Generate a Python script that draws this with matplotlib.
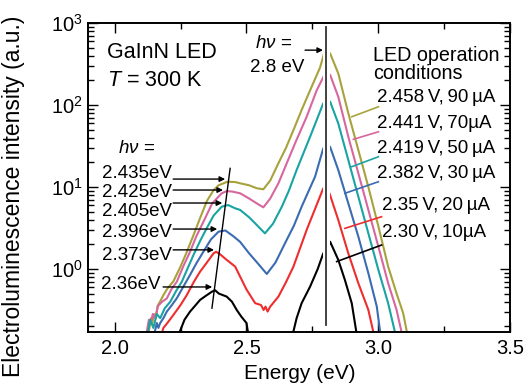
import matplotlib
matplotlib.use("Agg")
import matplotlib.pyplot as plt
import matplotlib.patheffects as pe
from matplotlib.ticker import MultipleLocator, LogLocator, NullFormatter
import numpy as np

plt.rcParams['font.family'] = ['Liberation Sans', 'DejaVu Sans']
plt.rcParams['mathtext.fontset'] = 'custom'
plt.rcParams['mathtext.rm'] = 'Liberation Sans'
plt.rcParams['mathtext.it'] = 'Liberation Sans:italic'

# spectra: photon energy (eV) and EL intensity (a.u.)
e_90 = [2.128, 2.138, 2.143, 2.150, 2.156, 2.163, 2.172, 2.185, 2.200, 2.223, 2.250, 2.274, 2.300, 2.324,
        2.350, 2.375, 2.394, 2.428, 2.457, 2.476, 2.510, 2.539, 2.564, 2.590, 2.621, 2.650, 2.678, 2.709,
        2.741, 2.779, 2.794, 2.805, 2.817, 2.848, 2.886, 2.924, 2.962, 3.000, 3.037, 3.069, 3.094, 3.110]
i_90 = [0.158, 0.251, 0.219, 0.282, 0.251, 0.355, 0.398, 0.479, 0.575, 0.708, 1.07, 1.62, 2.63, 4.17,
        6.76, 9.12, 10.5, 11.6, 11.5, 11.1, 10.5, 9.66, 9.38, 12.0, 19.5, 30.2, 49.5, 87.1,
        151, 288, 427, 457, 427, 243, 79.4, 28.2, 10.0, 3.31, 1.07, 0.501, 0.288, 0.158]

e_70 = [2.120, 2.130, 2.137, 2.145, 2.154, 2.165, 2.180, 2.198, 2.215, 2.236, 2.260, 2.286, 2.310, 2.337,
        2.370, 2.406, 2.425, 2.445, 2.476, 2.510, 2.539, 2.564, 2.590, 2.621, 2.650, 2.684, 2.728, 2.766,
        2.794, 2.805, 2.817, 2.848, 2.886, 2.924, 2.962, 3.000, 3.037, 3.069, 3.090]
i_70 = [0.158, 0.240, 0.219, 0.282, 0.251, 0.355, 0.398, 0.437, 0.562, 0.700, 1.07, 1.62, 2.51, 3.78,
        6.31, 8.38, 8.91, 8.81, 8.38, 7.24, 6.31, 5.65, 7.24, 11.1, 18.6, 34.1, 71.9, 151,
        229, 245, 234, 126, 41.0, 14.7, 5.25, 1.87, 0.670, 0.316, 0.158]

e_50 = [2.125, 2.135, 2.147, 2.160, 2.173, 2.190, 2.211, 2.233, 2.255, 2.277, 2.299, 2.324, 2.349, 2.375,
        2.406, 2.430, 2.457, 2.476, 2.510, 2.539, 2.570, 2.600, 2.634, 2.660, 2.690, 2.741, 2.791, 2.805,
        2.817, 2.848, 2.886, 2.924, 2.962, 3.000, 3.037, 3.065]
i_50 = [0.158, 0.240, 0.191, 0.282, 0.251, 0.331, 0.398, 0.537, 0.700, 1.02, 1.48, 2.19, 3.13, 4.47,
        5.75, 6.03, 5.50, 5.25, 4.27, 3.44, 2.72, 3.55, 5.75, 8.91, 16.1, 41.0, 105, 112,
        110, 59.7, 21.3, 7.62, 2.72, 0.973, 0.382, 0.158]

e_30 = [2.150, 2.160, 2.166, 2.173, 2.185, 2.198, 2.215, 2.236, 2.260, 2.286, 2.310, 2.337, 2.365, 2.394,
        2.420, 2.450, 2.476, 2.510, 2.540, 2.577, 2.610, 2.646, 2.680, 2.709, 2.760, 2.791, 2.805, 2.817,
        2.848, 2.886, 2.924, 2.962, 2.994, 3.008]
i_30 = [0.158, 0.219, 0.191, 0.219, 0.251, 0.302, 0.355, 0.440, 0.603, 0.845, 1.17, 1.63, 2.29, 2.85,
        2.95, 2.51, 2.14, 1.55, 1.20, 0.869, 1.20, 2.06, 3.39, 5.75, 13.4, 29.6, 31.6, 30.9,
        16.1, 6.31, 2.48, 0.885, 0.347, 0.158]

e_20 = [2.178, 2.185, 2.200, 2.223, 2.250, 2.274, 2.300, 2.324, 2.350, 2.375, 2.385, 2.400, 2.425, 2.457,
        2.476, 2.500, 2.533, 2.555, 2.565, 2.572, 2.580, 2.590, 2.621, 2.650, 2.678, 2.728, 2.791, 2.805,
        2.817, 2.848, 2.886, 2.924, 2.962, 2.983]
i_20 = [0.158, 0.191, 0.219, 0.275, 0.363, 0.482, 0.692, 0.927, 1.20, 1.55, 1.62, 1.51, 1.29, 1.07,
        0.805, 0.562, 0.382, 0.363, 0.316, 0.347, 0.302, 0.347, 0.460, 0.692, 1.07, 2.99, 9.64, 10.0,
        7.94, 3.96, 1.55, 0.670, 0.316, 0.158]

e_10a = [2.240, 2.248, 2.265, 2.286, 2.305, 2.324, 2.345, 2.369, 2.381, 2.395, 2.425, 2.445, 2.463, 2.480, 2.500, 2.507]
i_10a = [0.158, 0.174, 0.240, 0.302, 0.355, 0.419, 0.468, 0.528, 0.550, 0.501, 0.460, 0.398, 0.316, 0.263, 0.219, 0.158]
e_10b = [2.675, 2.690, 2.709, 2.741, 2.770, 2.791, 2.805, 2.817, 2.848, 2.873, 2.899, 2.918]
i_10b = [0.158, 0.251, 0.382, 0.608, 1.00, 1.55, 1.66, 2.15, 1.29, 0.735, 0.382, 0.158]

ts = "\u2009"
conditions = ["2.458" + ts + "V," + ts + "90" + ts + "µA", "2.441" + ts + "V," + ts + "70µA",
              "2.419" + ts + "V," + ts + "50" + ts + "µA", "2.382" + ts + "V," + ts + "30" + ts + "µA",
              "2.35" + ts + "V," + ts + "20" + ts + "µA", "2.30" + ts + "V," + ts + "10µA"]
colors = ["#a8a23c", "#d8669e", "#1aa3a3", "#3b6bb0", "#ee2e2e", "black"]

peak_low = ["2.435eV", "2.425eV", "2.405eV", "2.396eV", "2.373eV", "2.36eV"]

fig = plt.figure(figsize=(5.25, 3.92), dpi=100)
ax = fig.add_axes([0.168, 0.153, 0.804, 0.788])

lw = 1.5
ax.plot(e_90, i_90, color=colors[0], lw=lw)
ax.plot(e_70, i_70, color=colors[1], lw=lw)
ax.plot(e_50, i_50, color=colors[2], lw=lw)
ax.plot(e_30, i_30, color=colors[3], lw=lw)
ax.plot(e_20, i_20, color=colors[4], lw=lw)
ax.plot(e_10a, i_10a, color=colors[5], lw=lw)
ax.plot(e_10b, i_10b, color=colors[5], lw=lw)

# main peak marker at 2.8 eV, with a white gap around it
ax.plot([2.803, 2.803], [0.21, 890], color='#333333', lw=1.3, zorder=5,
        path_effects=[pe.withStroke(linewidth=5, foreground='white')])
# drift of the low-energy peak
ax.plot([2.369, 2.438], [0.332, 16.9], color='black', lw=1.0, zorder=5)

ax.set_yscale('log')
ax.set_xlim(1.9, 3.5)
ax.set_ylim(0.17, 1000)
ax.xaxis.set_major_locator(MultipleLocator(0.5))
ax.xaxis.set_minor_locator(MultipleLocator(0.25))
ax.yaxis.set_major_locator(LogLocator(base=10))
ax.yaxis.set_minor_locator(LogLocator(base=10, subs=np.arange(2, 10)))
ax.yaxis.set_minor_formatter(NullFormatter())
ax.tick_params(which='both', direction='in', top=True, right=True, width=1.0, labelsize=14.5)
ax.tick_params(which='major', length=7)
ax.tick_params(which='minor', length=4)
ax.tick_params(axis='x', pad=5)
ax.tick_params(axis='y', pad=4)
for s in ax.spines.values():
    s.set_linewidth(1.4)

ax.set_xlabel("Energy (eV)", fontsize=15, labelpad=4)
ax.set_ylabel("Electroluminescence intensity (a.u.)", fontsize=16.5)
ax.yaxis.set_label_coords(-0.15, 0.44)

fs = 13.5
ax.text(1.972, 443, "GaInN LED", fontsize=15.5, va='center', ha='left')
ax.text(1.972, 202, "$T$ = 300 K", fontsize=15.5, va='center', ha='left')

ax.text(2.533, 570, r"$h\nu$ =", fontsize=fs, va='center', ha='left')
ax.text(2.514, 290, "2.8 eV", fontsize=fs, va='center', ha='left')
ax.annotate("", xy=(2.790, 468), xytext=(2.722, 468),
            arrowprops=dict(arrowstyle='-|>', color='black', lw=1.0, mutation_scale=8, shrinkA=0, shrinkB=0))

ax.text(2.98, 407, "LED operation", fontsize=14.2, va='center', ha='left')
ax.text(2.98, 246, "conditions", fontsize=14.2, va='center', ha='left')

# operation condition labels with leader lines
text_y = [122, 60.3, 29.9, 14.8, 5.87, 2.75]
text_x = [2.995, 2.995, 2.995, 2.995, 3.014, 3.014]
lead_from = [(2.899, 72), (2.905, 38.2), (2.899, 17.7), (2.873, 8.38), (2.873, 3.13), (2.842, 1.23)]
lead_to = [(3.0, 95.3), (3.0, 47.2), (3.0, 23.4), (3.0, 11.6), (3.012, 4.34), (3.012, 1.96)]
for lab, c, tx, ty, a, b in zip(conditions, colors, text_x, text_y, lead_from, lead_to):
    ax.plot([a[0], b[0]], [a[1], b[1]], color=c, lw=1.2)
    ax.text(tx, ty, lab, fontsize=fs, va='center', ha='left')

# low-energy peak labels with arrows
ax.text(2.014, 29.9, r"$h\nu$ =", fontsize=fs, va='center', ha='left')
lab_x = [2.218, 2.218, 2.218, 2.218, 2.218, 2.173]
lab_y = [14.8, 8.69, 4.96, 2.75, 1.44, 0.638]
arr_y = [12.5, 9.19, 6.38, 3.07, 1.71, 0.603]
arr_x0 = [2.222, 2.222, 2.222, 2.222, 2.222, 2.184]
arr_x1 = [2.419, 2.411, 2.408, 2.389, 2.377, 2.370]
for lab, lx, ly, ay, x0, x1 in zip(peak_low, lab_x, lab_y, arr_y, arr_x0, arr_x1):
    ax.text(lx, ly, lab, fontsize=fs, va='center', ha='right')
    ax.annotate("", xy=(x1, ay), xytext=(x0, ay),
                arrowprops=dict(arrowstyle='-|>', color='black', lw=1.0, mutation_scale=8, shrinkA=0, shrinkB=0))

plt.savefig("out.png", dpi=100)
